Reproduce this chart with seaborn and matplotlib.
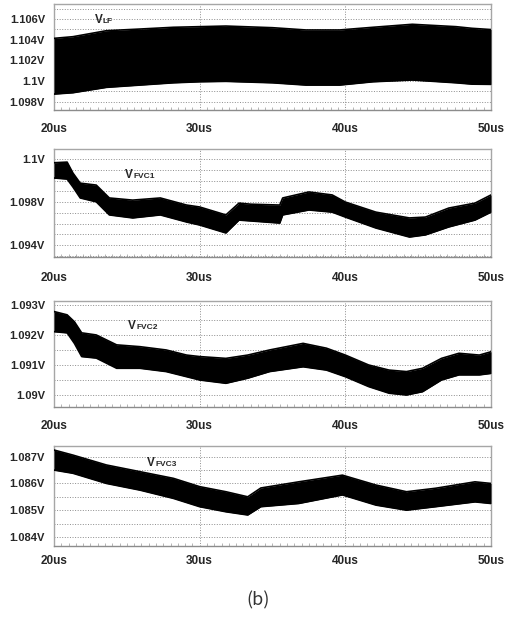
import numpy as np
import pandas as pd
import matplotlib
matplotlib.use('Agg')
import matplotlib.pyplot as plt
from matplotlib.ticker import MultipleLocator, FixedLocator
import seaborn as sns

# =============================================================================
# data (envelopes read off the waveform bands)
# =============================================================================
t_lf = [20.0, 21.3, 23.6, 25.9, 28.2, 30.0, 31.8, 35.0, 37.3, 39.6, 41.9, 44.6, 47.6, 48.7, 50.0]
lf_top = [1.10413, 1.10429, 1.10487, 1.10503, 1.10520, 1.10526, 1.10532, 1.10516,
          1.10494, 1.10494, 1.10520, 1.10549, 1.10526, 1.10510, 1.10498]
lf_bot = [1.09874, 1.09887, 1.09939, 1.09961, 1.09983, 1.09993, 1.09997, 1.09983,
          1.09961, 1.09961, 1.09993, 1.10010, 1.09983, 1.09970, 1.09968]

t_fvc1 = [20.0, 20.9, 21.3, 21.8, 22.9, 23.8, 25.4, 27.3, 29.1, 30.0, 31.8, 32.7,
          33.5, 35.5, 35.7, 37.5, 39.1, 40.0, 42.1, 44.4, 45.5, 47.1, 48.9, 50.0]
fvc1_top = [1.09983, 1.09986, 1.09935, 1.09888, 1.09879, 1.09819, 1.09809, 1.09819,
            1.09786, 1.09777, 1.09740, 1.09795, 1.09790, 1.09786, 1.09819, 1.09847,
            1.09833, 1.09800, 1.09753, 1.09726, 1.09730, 1.09772, 1.09795, 1.09833]
fvc1_bot = [1.09912, 1.09907, 1.09870, 1.09819, 1.09801, 1.09740, 1.09726, 1.09740,
            1.09707, 1.09693, 1.09656, 1.09716, 1.09712, 1.09702, 1.09740, 1.09763,
            1.09753, 1.09730, 1.09679, 1.09637, 1.09647, 1.09684, 1.09716, 1.09753]

t_fvc2 = [20.0, 20.9, 21.4, 21.9, 22.9, 24.3, 25.9, 27.7, 29.1, 30.0, 31.8, 33.3,
          34.8, 37.1, 38.7, 40.0, 41.6, 43.0, 44.2, 45.3, 46.6, 47.8, 49.2, 50.0]
fvc2_top = [1.09278, 1.09267, 1.09244, 1.09207, 1.09200, 1.09167, 1.09161, 1.09150,
            1.09133, 1.09128, 1.09122, 1.09133, 1.09150, 1.09172, 1.09156, 1.09133,
            1.09100, 1.09083, 1.09078, 1.09089, 1.09122, 1.09139, 1.09133, 1.09144]
fvc2_bot = [1.09211, 1.09207, 1.09172, 1.09128, 1.09123, 1.09089, 1.09089, 1.09078,
            1.09061, 1.09050, 1.09039, 1.09056, 1.09078, 1.09094, 1.09083, 1.09061,
            1.09028, 1.09006, 1.09000, 1.09011, 1.09050, 1.09067, 1.09067, 1.09072]

t_fvc3 = [20.0, 21.3, 23.6, 25.9, 28.2, 30.0, 31.8, 33.3, 34.2, 36.8, 39.8, 42.1,
          44.2, 46.2, 48.9, 50.0]
fvc3_top = [1.08725, 1.08706, 1.08669, 1.08644, 1.08619, 1.08588, 1.08569, 1.08550,
            1.08583, 1.08606, 1.08631, 1.08594, 1.08569, 1.08582, 1.08606, 1.08600]
fvc3_bot = [1.08650, 1.08638, 1.08600, 1.08575, 1.08544, 1.08513, 1.08494, 1.08482,
            1.08513, 1.08525, 1.08557, 1.08519, 1.08500, 1.08513, 1.08531, 1.08525]

x_ticks = [20, 30, 40, 50]
x_labels = ['20us', '30us', '40us', '50us']

panels = [
    # name, sub, t, top, bottom, ylim, y ticks, y tick labels, grid step, label pos, x pad
    ('V', 'LF', t_lf, lf_top, lf_bot, (1.0972, 1.10745),
     [1.098, 1.100, 1.102, 1.104, 1.106], ['1.098V', '1.1V', '1.102V', '1.104V', '1.106V'],
     0.001, (22.8, 1.1059), 9.5),
    ('V', 'FVC1', t_fvc1, fvc1_top, fvc1_bot, (1.09544, 1.10047),
     [1.096, 1.098, 1.100], ['1.094V', '1.098V', '1.1V'],
     0.0005, (24.9, 1.09926), 11),
    ('V', 'FVC2', t_fvc2, fvc2_top, fvc2_bot, (1.0896, 1.09313),
     [1.090, 1.091, 1.092, 1.093], ['1.09V', '1.091V', '1.092V', '1.093V'],
     0.0005, (25.1, 1.0923), 9.5),
    ('V', 'FVC3', t_fvc3, fvc3_top, fvc3_bot, (1.08366, 1.0874),
     [1.084, 1.085, 1.086, 1.087], ['1.084V', '1.085V', '1.086V', '1.087V'],
     0.0005, (26.4, 1.08676), 6.5),
]

# =============================================================================
# plot
# =============================================================================
sns.set_style('white')
plt.rcParams['font.family'] = ['Liberation Sans Narrow', 'Liberation Sans', 'DejaVu Sans']

fig = plt.figure(figsize=(5.09, 6.18), dpi=100)
boxes = [(0.822, 0.1715), (0.5841, 0.1748), (0.3414, 0.1715), (0.1165, 0.1618)]

for (name, sub, t, top, bot, ylim, yt, ytl, gstep, lpos, xpad), (b, h) in zip(panels, boxes):
    ax = fig.add_axes([0.1061, b, 0.8585, h])
    df = pd.DataFrame({'t': t, 'top': top, 'bot': bot})
    ax.fill_between(df['t'], df['bot'], df['top'], color='black', lw=0, zorder=3)
    sns.lineplot(data=df, x='t', y='top', color='black', lw=1.2, ax=ax, zorder=3)
    sns.lineplot(data=df, x='t', y='bot', color='black', lw=1.2, ax=ax, zorder=3)

    ax.set_xlim(20, 50)
    ax.set_ylim(*ylim)
    ax.set_xlabel('')
    ax.set_ylabel('')
    ax.set_xticks(x_ticks)
    ax.set_xticklabels(x_labels, fontweight='bold', fontsize=8.5)
    ax.xaxis.set_minor_locator(MultipleLocator(0.5))
    ax.yaxis.set_major_locator(FixedLocator(yt))
    ax.set_yticklabels(ytl, fontweight='bold', fontsize=8)
    ax.yaxis.set_minor_locator(MultipleLocator(gstep))
    ax.tick_params(axis='y', which='both', length=0, pad=6.5)
    ax.tick_params(axis='x', which='major', length=0, pad=xpad)
    ax.tick_params(axis='x', which='minor', direction='in', length=2, width=0.5,
                   color='#999999', bottom=True)

    ax.grid(axis='y', which='both', ls=':', lw=0.7, color='#8c8c8c', zorder=1)
    ax.grid(axis='x', which='major', ls=':', lw=0.7, color='#8c8c8c', zorder=1)
    for s in ax.spines.values():
        s.set_color('#a6a6a6')
        s.set_linewidth(1.0)
    ax.spines['bottom'].set_color('#8c8c8c')

    tx = ax.text(lpos[0], lpos[1], name, fontsize=8.5, fontweight='bold',
                 ha='left', va='center', zorder=5)
    ax.annotate(sub, xy=(1, 0.12), xycoords=tx, fontsize=6, fontweight='bold',
                ha='left', va='bottom', zorder=5)

fig.text(0.507, 0.029, '(b)', fontsize=13, color='#333333', ha='center', va='center',
         family=['Noto Sans CJK KR', 'DejaVu Sans'])

fig.savefig('out.png', dpi=100)
